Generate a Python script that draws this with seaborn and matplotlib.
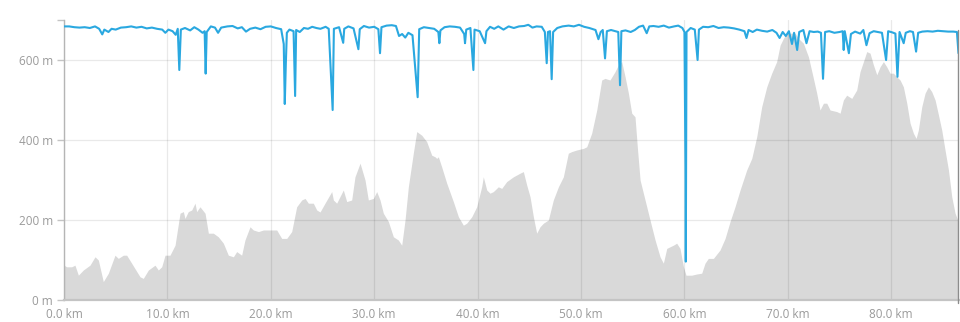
import numpy as np
import pandas as pd
import matplotlib
matplotlib.use("Agg")
import matplotlib.pyplot as plt
import seaborn as sns

# ---------------- data ----------------
gray_km = [0.0, 0.26, 0.74, 1.06, 1.39, 1.87, 2.51, 3.0, 3.32, 3.80, 4.29, 4.93, 5.25, 5.74,
           6.06, 6.54, 7.35, 7.67, 8.16, 8.80, 9.12, 9.45, 9.77, 10.25, 10.74, 11.22, 11.54,
           11.70, 12.02, 12.35, 12.67, 12.83, 13.15, 13.64, 13.96, 14.44, 14.92, 15.41, 15.89,
           16.38, 16.70, 17.18, 17.50, 17.99, 18.31, 18.80, 19.28, 19.92, 20.57, 21.05, 21.54,
           22.02, 22.50, 22.99, 23.31, 23.63, 24.11, 24.44,
           24.76, 25.24, 25.89, 26.05, 26.37, 27.01, 27.34, 27.82, 28.14, 28.63, 29.11, 29.43,
           29.92, 30.24, 30.56, 30.88, 31.37, 31.85, 32.33, 32.66, 32.98, 33.30, 33.78, 34.11,
           34.59, 35.07, 35.56, 35.88, 36.04, 36.20, 36.52, 37.01, 37.65, 38.14, 38.62, 38.94,
           39.43, 39.91, 40.39, 40.55, 40.88, 41.20, 41.52, 42.00, 42.33, 42.81, 43.46, 44.10,
           44.42, 44.75, 45.07, 45.39, 45.71, 46.03, 46.36, 46.84, 47.32, 47.81, 48.29, 48.77,
           49.10, 49.58, 50.23, 50.55, 51.03, 51.52, 52.00, 52.32, 52.80, 53.29, 53.61, 53.93,
           54.26, 54.58, 54.90, 55.22, 55.45,
           55.71, 56.19, 56.67, 57.16, 57.64, 57.96, 58.29, 58.61, 58.93, 59.25, 59.57, 59.90,
           60.15, 60.70, 61.19, 61.67, 61.99, 62.31, 62.80, 63.44, 63.93, 64.41, 64.89, 65.38,
           66.02, 66.51, 66.99, 67.47, 67.96, 68.44, 68.92, 69.25, 69.57, 69.89, 70.37, 70.70,
           71.02, 71.50, 71.99, 72.47, 72.79, 73.11, 73.44, 73.76, 74.08, 74.73, 75.05, 75.37,
           75.69, 76.18, 76.66, 76.98, 77.31, 77.63, 77.95, 78.27, 78.60, 78.92, 79.24, 79.56,
           79.88, 80.21, 80.53, 80.85, 81.17, 81.50, 81.82, 82.14, 82.40, 82.62, 82.95, 83.27,
           83.59, 83.91, 84.24, 84.56, 84.88, 85.20, 85.53, 85.85, 86.17, 86.49]
gray_m = [87, 83, 83, 87, 62, 75, 87, 108, 100, 46, 67, 112, 104, 112,
          112, 92, 58, 54, 75, 87, 75, 83, 112, 112, 137, 217, 221,
          204, 221, 225, 242, 221, 233, 217, 167, 167, 158, 142, 112,
          108, 121, 112, 150, 183, 175, 171, 175, 175, 175, 154, 154,
          171, 233, 250, 254, 242, 242, 225,
          220, 242, 271, 250, 242, 275, 246, 250, 308, 342, 300, 250,
          254, 271, 250, 217, 196, 158, 150, 137, 200, 283, 367, 421,
          412, 396, 362, 358, 354, 358, 333, 292, 246, 208, 187, 192,
          208, 233, 283, 308, 275, 267, 271, 283, 279, 296, 308, 317,
          321, 287, 258, 208, 167, 183, 192, 200, 250, 283, 308, 367,
          371, 375, 379, 383, 417, 475, 550, 554, 550, 571, 588, 596,
          558, 517, 467, 458, 380,
          300, 250, 200, 150, 108, 92, 129, 133, 137, 142, 129, 83,
          62, 62, 65, 67, 92, 104, 104, 125, 154, 196, 233, 275,
          325, 354, 408, 483, 533, 567, 596, 637, 654, 667, 667, 667,
          654, 642, 608, 554, 517, 475, 492, 492, 475, 471, 467, 500,
          512, 504, 525, 571, 596, 621, 617, 588, 563, 583, 596, 583,
          567, 567, 558, 550, 533, 492, 442, 417, 404, 425, 483, 517,
          533, 521, 500, 463, 425, 375, 325, 258, 217, 196]

blue_km = [0.0, 0.5, 1.0, 1.5, 2.0, 2.5, 3.0, 3.4, 3.7, 3.9, 4.3, 4.6, 5.0, 5.5, 6.0, 6.5,
           7.0, 7.5, 8.0, 8.5, 9.0, 9.5, 9.8, 10.1, 10.5, 10.8, 11.0, 11.15, 11.3, 11.7, 12.2,
           12.6, 13.0, 13.4, 13.6, 13.7, 13.8, 14.2, 14.6, 14.9, 15.2, 15.8, 16.3, 16.8, 17.2,
           17.6, 18.0, 18.5, 19.0, 19.5, 20.0, 20.5, 21.0, 21.25, 21.35, 21.45, 21.55, 21.8,
           22.2, 22.35, 22.45, 22.8, 23.2, 23.6, 24.0, 24.4, 24.8, 25.3, 25.6, 25.98, 26.1,
           26.6, 27.0, 27.1, 27.5, 28.0, 28.47, 28.6, 29.0, 29.5, 30.0, 30.4, 30.56, 30.7,
           31.2, 31.7, 32.1, 32.4, 32.7, 33.0, 33.3, 33.7, 34.2, 34.35, 34.8, 35.3, 35.8,
           36.2, 36.3, 36.4, 36.8, 37.3, 37.8, 38.3, 38.7, 38.78, 38.9, 39.3, 39.59, 39.7,
           40.2, 40.72, 40.85, 41.2, 41.6, 42.0, 42.5, 43.0, 43.5, 44.0, 44.5, 44.9, 45.3,
           45.7, 46.2, 46.5, 46.68, 46.8, 47.0, 47.16, 47.3, 47.7, 48.2, 48.8, 49.3, 49.8,
           50.3, 50.8, 51.4, 51.68, 51.9, 52.1, 52.32, 52.5, 52.9, 53.3, 53.6, 53.77, 53.9,
           54.3, 54.8, 55.2, 55.6, 56.0, 56.35, 56.6, 57.0, 57.5, 58.0, 58.5, 59.0, 59.4,
           59.8, 60.0, 60.1, 60.13, 60.2, 60.6, 61.0, 61.27, 61.4, 61.8, 62.3, 62.8, 63.3,
           63.8, 64.3, 64.8, 65.3, 65.8, 66.0, 66.2, 66.6, 67.0, 67.5, 68.0, 68.5, 68.9,
           69.2, 69.5, 69.8, 70.1, 70.4, 70.6, 70.9, 71.1, 71.5, 71.8, 72.1, 72.5, 72.9,
           73.2, 73.4, 73.6, 74.0, 74.5, 75.0, 75.3, 75.4, 75.5, 75.9, 76.1, 76.5, 77.0,
           77.3, 77.6, 77.9, 78.3, 78.7, 79.1, 79.5, 79.7, 80.1, 80.4, 80.6, 80.8, 81.2,
           81.4, 81.8, 82.1, 82.4, 82.6, 83.0, 83.5, 84.0, 84.5, 85.0, 85.5, 86.0, 86.35, 86.5]
blue_m = [684, 684, 682, 681, 682, 680, 684, 678, 664, 676, 670, 678, 676, 681, 682, 684,
          681, 683, 679, 681, 678, 676, 668, 676, 672, 663, 678, 575, 676, 680, 674,
          682, 676, 668, 672, 566, 670, 684, 681, 668, 681, 684, 685, 679, 682,
          671, 678, 681, 677, 683, 684, 680, 677, 640, 490, 590, 668, 676,
          672, 510, 675, 670, 680, 678, 683, 680, 678, 683, 678, 475, 678,
          682, 643, 678, 684, 679, 627, 677, 685, 681, 683, 677, 617, 682,
          686, 687, 685, 660, 665, 656, 668, 662, 507, 677, 682, 680, 678,
          670, 642, 674, 682, 684, 683, 681, 665, 642, 676, 680, 575, 676,
          672, 642, 672, 683, 678, 684, 676, 684, 680, 684, 685, 688, 681,
          684, 683, 670, 592, 670, 672, 552, 670, 680, 684, 686, 684, 688,
          683, 680, 675, 652, 670, 675, 604, 672, 675, 672, 670, 537, 672,
          674, 670, 675, 683, 686, 667, 684, 685, 683, 686, 681, 684, 686,
          680, 670, 333, 96, 670, 680, 676, 600, 676, 683, 682, 685, 680,
          682, 681, 679, 676, 672, 655, 675, 670, 676, 673, 671, 675, 668,
          655, 670, 660, 672, 640, 668, 625, 670, 675, 642, 672, 670, 671,
          668, 553, 670, 672, 668, 670, 672, 625, 672, 617, 665, 671, 666,
          675, 637, 667, 672, 670, 668, 600, 672, 669, 666, 558, 670, 642,
          668, 672, 670, 621, 668, 671, 672, 671, 673, 672, 671, 671, 670, 617]

x_ticks = [0, 10, 20, 30, 40, 50, 60, 70, 80]
x_labels = ["0.0 km", "10.0 km", "20.0 km", "30.0 km", "40.0 km", "50.0 km",
            "60.0 km", "70.0 km", "80.0 km"]
y_ticks = [0, 200, 400, 600]
y_labels = ["0 m", "200 m", "400 m", "600 m"]

profile = pd.DataFrame({"km": gray_km, "m": gray_m})
trace = pd.DataFrame({"km": blue_km, "m": blue_m})

# ---------------- plot ----------------
sns.set_theme(style="white")
plt.rcParams['font.family'] = ['Open Sans', 'DejaVu Sans']

fig = plt.figure(figsize=(9.6, 3.22), dpi=100)
ax = fig.add_axes([64 / 960, 22 / 322, 895 / 960, 280 / 322])

ax.fill_between(profile["km"], profile["m"], 0, color="#d9d9d9", lw=0, zorder=0.3)
sns.lineplot(data=trace, x="km", y="m", ax=ax, color="#2aa8e0", lw=1.5,
             estimator=None, sort=False, zorder=3)

ax.set_xlim(0, 86.55)
ax.set_ylim(0, 700)
ax.set_xticks(x_ticks)
ax.set_xticklabels(x_labels)
ax.set_yticks(y_ticks)
ax.set_yticklabels(y_labels)
ax.set_yticks([700], minor=True)
ax.set_xlabel("")
ax.set_ylabel("")

ax.set_axisbelow(True)
ax.grid(True, which="major", color="#000000", alpha=0.085, lw=0.9)

for s in ["top", "right"]:
    ax.spines[s].set_visible(False)
ax.spines["left"].set_color("#b5b5b5")
ax.spines["left"].set_linewidth(1.0)
ax.spines["bottom"].set_color("#c4c4c4")
ax.spines["bottom"].set_linewidth(1.6)

ax.tick_params(axis="y", which="both", length=5, width=1, color="#c4c4c4",
               labelcolor="#9a9a9a", labelsize=8.5, pad=3, left=True)
ax.tick_params(axis="x", length=0, labelcolor="#9a9a9a", labelsize=8.5, pad=6)

ax.axvline(86.5, ymin=-0.012, ymax=0.965, color="#8c8c8c", lw=1, clip_on=False, zorder=4)

fig.savefig("out.png", dpi=100, facecolor="white")
